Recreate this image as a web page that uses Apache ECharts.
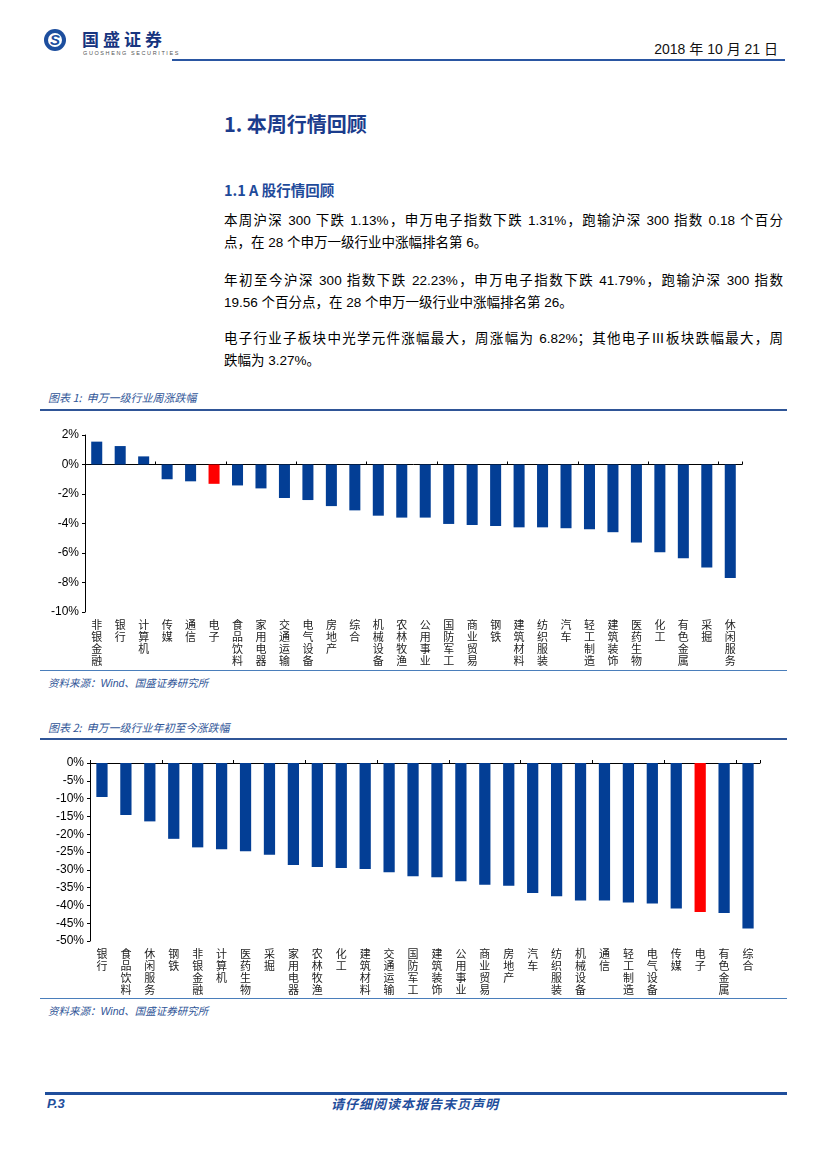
<!DOCTYPE html>
<html>
<head>
<meta charset="utf-8">
<script src="https://cdn.jsdelivr.net/npm/echarts@6/dist/echarts.min.js"></script>
<style>
  html, body { margin: 0; padding: 0; background: #fff; }
  body { width: 827px; height: 1170px; position: relative; overflow: hidden;
         font-family: "Liberation Sans", "Noto Sans CJK SC", sans-serif; color: #000; }
  .abs { position: absolute; white-space: nowrap; }
  .line { position: absolute; }
  .body-line { position: absolute; left: 224px; width: 559px; font-size: 13.5px; line-height: 20px; height: 20px; white-space: nowrap; }
  .just { text-align: justify; text-align-last: justify; }
  .cap { position: absolute; left: 48px; font-size: 11px; line-height: 14px; font-style: italic; color: #2F5597; font-family: "Noto Sans CJK SC", sans-serif; }
  .src { position: absolute; left: 48px; font-size: 10.5px; line-height: 14px; font-style: italic; color: #2F5597; font-family: "Liberation Sans", "Noto Sans CJK SC", sans-serif; }
</style>
</head>
<body>
<!-- header -->
<div class="abs" style="left:44px;top:29px;width:22px;height:22px;border-radius:50%;background:#1D4E9E;"></div>
<div class="abs" style="left:48px;top:33px;width:14px;height:14px;border-radius:50%;background:#fff;"></div>
<div class="abs" style="left:49px;top:31px;width:12px;height:18px;font:bold italic 15px/18px 'Liberation Sans';color:#1D4E9E;text-align:center;">S</div>
<div class="abs" style="left:82px;top:29px;font:bold 17px/20px 'Noto Sans CJK SC';letter-spacing:4px;color:#17357F;">国盛证券</div>
<div class="abs" style="left:83px;top:50px;font:5.5px/7px 'Liberation Sans';letter-spacing:1.6px;color:#555;">GUOSHENG SECURITIES</div>
<div class="abs" style="left:600px;width:178px;top:40px;font-size:14px;line-height:18px;text-align:right;color:#111;">2018 年 10 月 21 日</div>
<div class="line" style="left:172px;top:59px;width:613px;height:2px;background:#2A56A2;"></div>

<!-- headings -->
<div class="abs" style="left:224px;top:112px;font:bold 20px/24px 'Noto Sans CJK SC';color:#1B3C8C;">1. 本周行情回顾</div>
<div class="abs" style="left:224px;top:180px;font:bold 14.5px/20px 'Noto Sans CJK SC';color:#1E4A9A;">1.1 A 股行情回顾</div>

<!-- body text -->
<div class="body-line just" style="top:211px;">本周沪深 300 下跌 1.13%，申万电子指数下跌 1.31%，跑输沪深 300 指数 0.18 个百分</div>
<div class="body-line" style="top:233px;">点，在 28 个申万一级行业中涨幅排名第 6。</div>
<div class="body-line just" style="top:271px;">年初至今沪深 300 指数下跌 22.23%，申万电子指数下跌 41.79%，跑输沪深 300 指数</div>
<div class="body-line" style="top:293px;">19.56 个百分点，在 28 个申万一级行业中涨幅排名第 26。</div>
<div class="body-line just" style="top:329px;">电子行业子板块中光学元件涨幅最大，周涨幅为 6.82%；其他电子Ⅲ板块跌幅最大，周</div>
<div class="body-line" style="top:351px;">跌幅为 3.27%。</div>

<!-- chart 1 -->
<div class="cap" style="top:390px;">图表 1:&nbsp;&nbsp;申万一级行业周涨跌幅</div>
<div class="line" style="left:40px;top:409px;width:747px;height:2px;background:#2F5597;"></div>
<div id="c1" style="position:absolute;left:40px;top:412px;width:750px;height:256px;"></div>
<div class="line" style="left:40px;top:670px;width:747px;height:1px;background:#4A7EBB;"></div>
<div class="src" style="top:676px;">资料来源：Wind、国盛证券研究所</div>

<!-- chart 2 -->
<div class="cap" style="top:720px;">图表 2:&nbsp;&nbsp;申万一级行业年初至今涨跌幅</div>
<div class="line" style="left:40px;top:738px;width:747px;height:2px;background:#2F5597;"></div>
<div id="c2" style="position:absolute;left:40px;top:742px;width:750px;height:254px;"></div>
<div class="line" style="left:40px;top:998px;width:747px;height:1px;background:#4A7EBB;"></div>
<div class="src" style="top:1004px;">资料来源：Wind、国盛证券研究所</div>

<!-- footer -->
<div class="line" style="left:45px;top:1092px;width:742px;height:3px;background:#1F4E9C;"></div>
<div class="abs" style="left:47px;top:1096px;font:bold italic 13px/16px 'Liberation Sans';color:#1F4E9C;">P.3</div>
<div class="abs" style="left:331px;top:1096px;font:bold italic 13px/16px 'Noto Sans CJK SC';letter-spacing:1px;color:#1F4E9C;">请仔细阅读本报告末页声明</div>

<script>
// ---------- data ----------
const weeklyCategories = ['非银金融','银行','计算机','传媒','通信','电子','食品饮料','家用电器','交通运输','电气设备','房地产','综合','机械设备','农林牧渔','公用事业','国防军工','商业贸易','钢铁','建筑材料','纺织服装','汽车','轻工制造','建筑装饰','医药生物','化工','有色金属','采掘','休闲服务'];
const weeklyValues = [1.55, 1.25, 0.55, -1.00, -1.14, -1.31, -1.42, -1.62, -2.27, -2.41, -2.82, -3.11, -3.47, -3.60, -3.60, -4.03, -4.10, -4.17, -4.26, -4.26, -4.32, -4.39, -4.59, -5.29, -5.95, -6.35, -6.98, -7.70];

const ytdCategories = ['银行','食品饮料','休闲服务','钢铁','非银金融','计算机','医药生物','采掘','家用电器','农林牧渔','化工','建筑材料','交通运输','国防军工','建筑装饰','公用事业','商业贸易','房地产','汽车','纺织服装','机械设备','通信','轻工制造','电气设备','传媒','电子','有色金属','综合'];
const ytdValues = [-9.55, -14.6, -16.4, -21.3, -23.7, -24.25, -24.8, -25.75, -28.65, -29.2, -29.5, -29.8, -30.7, -31.8, -32.1, -33.2, -34.2, -34.5, -36.5, -37.45, -38.6, -38.6, -39.2, -39.5, -40.9, -41.85, -42.1, -46.5];

const weeklyAxis = { min: -10, max: 2, interval: 2 };
const ytdAxis = { min: -50, max: 0, interval: 5 };
const highlightCategory = '电子';

// ---------- styles ----------
const BLUE = '#033E95';
const RED = '#FF0000';

function buildOption(cats, vals, axis, grid, zeroPos) {
  const vertical = s => s.split('').join('\n');
  return {
    animation: false,
    grid: grid,
    xAxis: [
      {
        type: 'category', data: cats, position: 'bottom',
        axisLine: { show: false, onZero: false },
        axisTick: { show: false },
        axisLabel: {
          interval: 0, formatter: vertical, fontSize: 11, lineHeight: 12,
          margin: 7, color: '#222', verticalAlign: 'top',
          fontFamily: 'Noto Sans CJK SC'
        }
      },
      {
        type: 'category', data: cats, position: zeroPos,
        axisLine: { show: true, onZero: true, lineStyle: { color: '#000', width: 1 } },
        axisTick: { show: true, inside: zeroPos === 'bottom', length: 3, lineStyle: { color: '#000' } },
        axisLabel: { show: false }
      }
    ],
    yAxis: {
      type: 'value', min: axis.min, max: axis.max, interval: axis.interval,
      axisLine: { show: true, lineStyle: { color: '#000', width: 1 } },
      axisTick: { show: true, length: 3, lineStyle: { color: '#000' } },
      splitLine: { show: false },
      axisLabel: { formatter: v => v + '%', fontSize: 12, color: '#000', margin: 6, fontFamily: 'Liberation Sans' }
    },
    series: [{
      type: 'bar', xAxisIndex: 0, data: vals, barWidth: '47%',
      itemStyle: { color: p => p.name === highlightCategory ? RED : BLUE }
    }]
  };
}

const c1 = echarts.init(document.getElementById('c1'), null, { renderer: 'canvas' });
c1.setOption(buildOption(weeklyCategories, weeklyValues, weeklyAxis,
  { left: 45, top: 23, width: 657, height: 177 }, 'bottom'));

const c2 = echarts.init(document.getElementById('c2'), null, { renderer: 'canvas' });
c2.setOption(buildOption(ytdCategories, ytdValues, ytdAxis,
  { left: 50, top: 21, width: 670, height: 178 }, 'top'));
</script>
</body>
</html>
